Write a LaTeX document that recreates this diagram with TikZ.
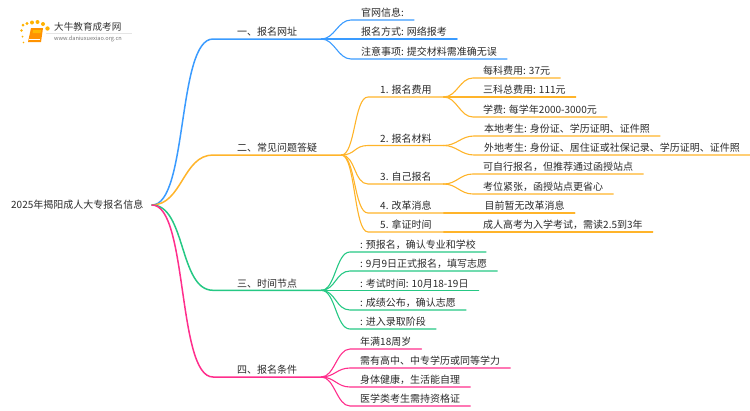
\documentclass[tikz,border=0pt]{standalone}
\usepackage{fontspec}
\setmainfont{Noto Sans CJK SC}
\definecolor{mapblue}{HTML}{3A9BFF}
\definecolor{maporange}{HTML}{FFB42A}
\definecolor{mapgreen}{HTML}{25C884}
\definecolor{mappink}{HTML}{FF2E8C}
\definecolor{maptext}{HTML}{2A2A2A}
\tikzset{
    topic/.style={anchor=south west,inner xsep=24pt,inner ysep=1pt,text height=8pt,text depth=2pt,font=\fontsize{10}{12}\selectfont,text=maptext},
    sub/.style={topic,inner xsep=12pt},
    leaf/.style={topic,inner xsep=10pt},
    link/.style={line width=1.1pt,line cap=round},
    thick link/.style={line width=1.5pt,line cap=round}
}
\begin{document}
\begin{tikzpicture}[x=1pt,y=-1pt]
    \useasboundingbox (0,0) rectangle (750,410);
    % logo
    \fill[orange!85!yellow] (31,28) -- (43,28) -- (41,42) -- (28,42) -- cycle;
    \fill[orange!55!yellow] (33,30) -- (41,30) -- (40.5,33) -- (32.5,33) -- cycle;
    \draw[white,line width=.5pt] (29,39.5) -- (40,39.5);
    \foreach \x/\y/\r in {23/25/1.5,27/23.5/1.7,32/22.5/2,37.5/22/2,43/24/2,47.5/28.5/2.2,21.5/30.5/1.3,22.5/36.5/1,23.5/42.5/.8}
        \fill[orange!60!yellow] (\x,\y) circle (\r);
    \draw[black!10,line width=.6pt] (46,33) -- (132,33);
    \node[anchor=west,inner sep=0pt,font=\fontsize{9.6}{11}\selectfont,text=black!80] (brand) at (54,26.5) {大牛教育成考网};
    \node[anchor=west,inner sep=0pt,font=\fontsize{5.6}{7}\selectfont,text=black!55] (site) at (54,38.5) {www.daniuxuexiao.org.cn};
    % root and topics
    \node[topic,inner xsep=9pt] (root) at (2,212) {2025年揭阳成人大专报名信息};
    \coordinate (start) at (152,205);
    \node[topic] (b1) at (213,39) {一、报名网址};
    \node[topic] (b2) at (213,155) {二、常见问题答疑};
    \node[topic] (b3) at (213,290.3) {三、时间节点};
    \node[topic] (b4) at (213,377) {四、报名条件};
    % first topic
    \node[leaf] (a1) at (351,20) {官网信息:};
    \node[leaf] (a2) at (351,39) {报名方式: 网络报考};
    \node[leaf] (a3) at (351,59) {注意事项: 提交材料需准确无误};
    % second topic
    \node[sub] (q1) at (368,97) {1. 报名费用};
    \node[sub] (q2) at (368,145.5) {2. 报名材料};
    \node[sub] (q3) at (368,184) {3. 自己报名};
    \node[sub] (q4) at (368,213) {4. 改革消息};
    \node[sub] (q5) at (368,232) {5. 拿证时间};
    \node[leaf] (f1) at (473,78) {每科费用: 37元};
    \node[leaf] (f2) at (473,97) {三科总费用: 111元};
    \node[leaf] (f3) at (473,117) {学费: 每学年2000-3000元};
    \node[leaf] (m1) at (474,136) {本地考生: 身份证、学历证明、证件照};
    \node[leaf] (m2) at (474,155) {外地考生: 身份证、居住证或社保记录、学历证明、证件照};
    \node[leaf] (s1) at (473,174) {可自行报名，但推荐通过函授站点};
    \node[leaf] (s2) at (473,194) {考位紧张，函授站点更省心};
    \node[leaf] (r1) at (474.5,213) {目前暂无改革消息};
    \node[leaf] (t1) at (473,232) {成人高考为入学考试，需读2.5到3年};
    % third topic
    \node[leaf] (d1) at (350,252) {: 预报名，确认专业和学校};
    \node[leaf] (d2) at (350,271) {: 9月9日正式报名，填写志愿};
    \node[leaf] (d3) at (350,290.3) {: 考试时间: 10月18-19日};
    \node[leaf] (d4) at (350,310) {: 成绩公布，确认志愿};
    \node[leaf] (d5) at (350,329) {: 进入录取阶段};
    % fourth topic
    \node[leaf] (c1) at (350,349) {年满18周岁};
    \node[leaf] (c2) at (350,368) {需有高中、中专学历或同等学力};
    \node[leaf] (c3) at (350,387) {身体健康，生活能自理};
    \node[leaf] (c4) at (350,406) {医学类考生需持资格证};
    % connectors
    \draw[thick link,mapblue] (start) .. controls +(36,0) and +(-36,0) .. (b1.south west) -- (b1.south east);
    \draw[thick link,maporange] (start) .. controls +(30,0) and +(-30,0) .. (b2.south west) -- (b2.south east);
    \draw[thick link,mapgreen] (start) .. controls +(34,0) and +(-34,0) .. (b3.south west) -- (b3.south east);
    \draw[thick link,mappink] (start) .. controls +(36,0) and +(-36,0) .. (b4.south west) -- (b4.south east);
    \foreach \k in {a1,a2,a3}
        \draw[link,mapblue] (b1.south east) .. controls +(13,0) and +(-13,0) .. (\k.south west) -- (\k.south east);
    \foreach \k in {q1,q2,q3,q4,q5}
        \draw[link,maporange] (b2.south east) .. controls +(14,0) and +(-14,0) .. (\k.south west) -- (\k.south east);
    \foreach \k in {f1,f2,f3}
        \draw[link,maporange] (q1.south east) .. controls +(13,0) and +(-13,0) .. (\k.south west) -- (\k.south east);
    \foreach \k in {m1,m2}
        \draw[link,maporange] (q2.south east) .. controls +(13,0) and +(-13,0) .. (\k.south west) -- (\k.south east);
    \foreach \k in {s1,s2}
        \draw[link,maporange] (q3.south east) .. controls +(13,0) and +(-13,0) .. (\k.south west) -- (\k.south east);
    \draw[link,maporange] (q4.south east) -- (r1.south east);
    \draw[link,maporange] (q5.south east) -- (t1.south east);
    \foreach \k in {d1,d2,d3,d4,d5}
        \draw[link,mapgreen] (b3.south east) .. controls +(14,0) and +(-14,0) .. (\k.south west) -- (\k.south east);
    \foreach \k in {c1,c2,c3,c4}
        \draw[link,mappink] (b4.south east) .. controls +(13,0) and +(-13,0) .. (\k.south west) -- (\k.south east);
\end{tikzpicture}
\end{document}
